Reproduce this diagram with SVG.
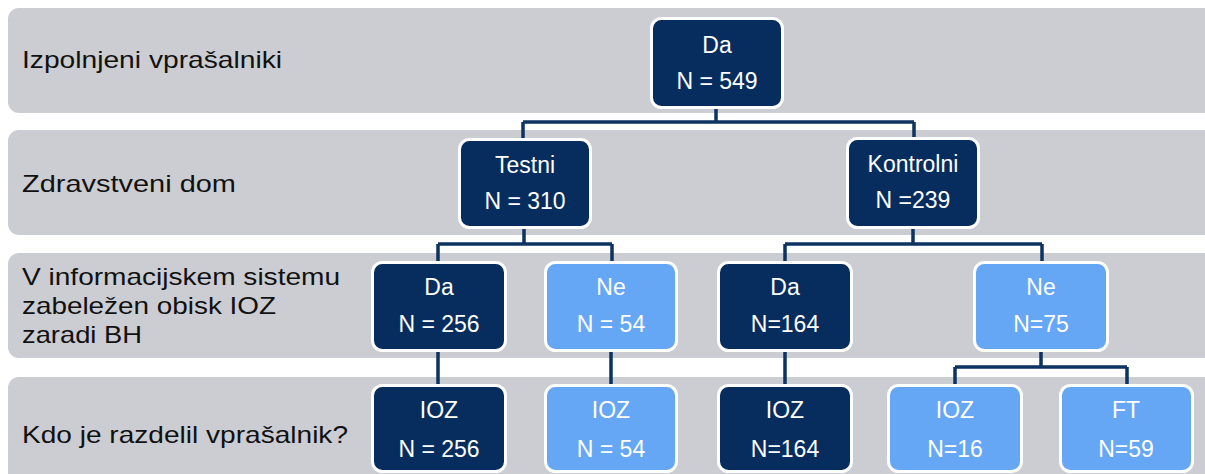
<svg xmlns="http://www.w3.org/2000/svg" width="1205" height="474" viewBox="0 0 1205 474">
  <style>
    .band { fill: #cccdd2; }
    .label { font-family: "Liberation Sans", Arial, sans-serif; font-size: 24px; fill: #111111; }
    .dark { fill: #072d5e; stroke: #ffffff; stroke-width: 3; }
    .light { fill: #65a7f4; stroke: #ffffff; stroke-width: 3; }
    .nt { font-family: "Liberation Sans", Arial, sans-serif; font-size: 23px; fill: #ffffff; text-anchor: middle; }
    .conn { fill: none; stroke: #0c3362; stroke-width: 3.5; }
  </style>
  <rect width="1205" height="474" fill="#ffffff"/>

  <!-- row bands with their row labels -->
  <g id="bands">
    <rect class="band" x="8" y="8" width="1210" height="105" rx="11"/>
    <rect class="band" x="8" y="130" width="1210" height="105" rx="11"/>
    <rect class="band" x="8" y="253" width="1210" height="105" rx="11"/>
    <rect class="band" x="8" y="377" width="1210" height="110" rx="11"/>
    <text class="label" x="22" y="68" textLength="260" lengthAdjust="spacingAndGlyphs">Izpolnjeni vprašalniki</text>
    <text class="label" x="22" y="192" textLength="214" lengthAdjust="spacingAndGlyphs">Zdravstveni dom</text>
    <text class="label" x="22" y="285" textLength="318" lengthAdjust="spacingAndGlyphs">V informacijskem sistemu</text>
    <text class="label" x="22" y="314" textLength="254" lengthAdjust="spacingAndGlyphs">zabeležen obisk IOZ</text>
    <text class="label" x="22" y="343" textLength="120" lengthAdjust="spacingAndGlyphs">zaradi BH</text>
    <text class="label" x="22" y="443" textLength="326" lengthAdjust="spacingAndGlyphs">Kdo je razdelil vprašalnik?</text>
  </g>

  <!-- connectors -->
  <g id="connectors">
    <path class="conn" d="M716 107 V122 M523 122 H914 M523 122 V140 M914 122 V138"/>
    <path class="conn" d="M524 227 V244 M438 244 H612 M438 244 V263 M612 244 V263"/>
    <path class="conn" d="M913 228 V244 M785 244 H1042 M785 244 V263 M1042 244 V263"/>
    <path class="conn" d="M438 350 V386 M611 350 V386 M785 350 V386"/>
    <path class="conn" d="M1041 350 V367 M955 367 H1127 M955 367 V386 M1127 367 V386"/>
  </g>

  <g id="n-root">
    <rect class="dark" x="651.5" y="18.5" width="131" height="89" rx="10"/>
    <text class="nt" x="717" y="53">Da</text>
    <text class="nt" x="717" y="89">N = 549</text>
  </g>
  <g id="n-testni">
    <rect class="dark" x="459.5" y="139.5" width="131" height="88" rx="10"/>
    <text class="nt" x="525" y="173">Testni</text>
    <text class="nt" x="525" y="209">N = 310</text>
  </g>
  <g id="n-kontrolni">
    <rect class="dark" x="847.5" y="138.5" width="131" height="89" rx="10"/>
    <text class="nt" x="913" y="172">Kontrolni</text>
    <text class="nt" x="913" y="208">N =239</text>
  </g>
  <g id="n-testni-da">
    <rect class="dark" x="372.5" y="262.5" width="133" height="88" rx="10"/>
    <text class="nt" x="439" y="295">Da</text>
    <text class="nt" x="439" y="332">N = 256</text>
  </g>
  <g id="n-testni-ne">
    <rect class="light" x="545.5" y="262.5" width="131" height="88" rx="10"/>
    <text class="nt" x="611" y="295">Ne</text>
    <text class="nt" x="611" y="332">N = 54</text>
  </g>
  <g id="n-kontrolni-da">
    <rect class="dark" x="718.5" y="262.5" width="133" height="88" rx="10"/>
    <text class="nt" x="785" y="295">Da</text>
    <text class="nt" x="785" y="332">N=164</text>
  </g>
  <g id="n-kontrolni-ne">
    <rect class="light" x="974.5" y="262.5" width="133" height="88" rx="10"/>
    <text class="nt" x="1041" y="295">Ne</text>
    <text class="nt" x="1041" y="332">N=75</text>
  </g>
  <g id="n-ioz-256">
    <rect class="dark" x="372.5" y="385.5" width="133" height="86" rx="10"/>
    <text class="nt" x="439" y="418">IOZ</text>
    <text class="nt" x="439" y="457">N = 256</text>
  </g>
  <g id="n-ioz-54">
    <rect class="light" x="545.5" y="385.5" width="131" height="86" rx="10"/>
    <text class="nt" x="611" y="418">IOZ</text>
    <text class="nt" x="611" y="457">N = 54</text>
  </g>
  <g id="n-ioz-164">
    <rect class="dark" x="718.5" y="385.5" width="133" height="86" rx="10"/>
    <text class="nt" x="785" y="418">IOZ</text>
    <text class="nt" x="785" y="457">N=164</text>
  </g>
  <g id="n-ioz-16">
    <rect class="light" x="888.5" y="385.5" width="133" height="86" rx="10"/>
    <text class="nt" x="955" y="418">IOZ</text>
    <text class="nt" x="955" y="457">N=16</text>
  </g>
  <g id="n-ft-59">
    <rect class="light" x="1060.5" y="385.5" width="132" height="86" rx="10"/>
    <text class="nt" x="1126" y="418">FT</text>
    <text class="nt" x="1126" y="457">N=59</text>
  </g>
</svg>
